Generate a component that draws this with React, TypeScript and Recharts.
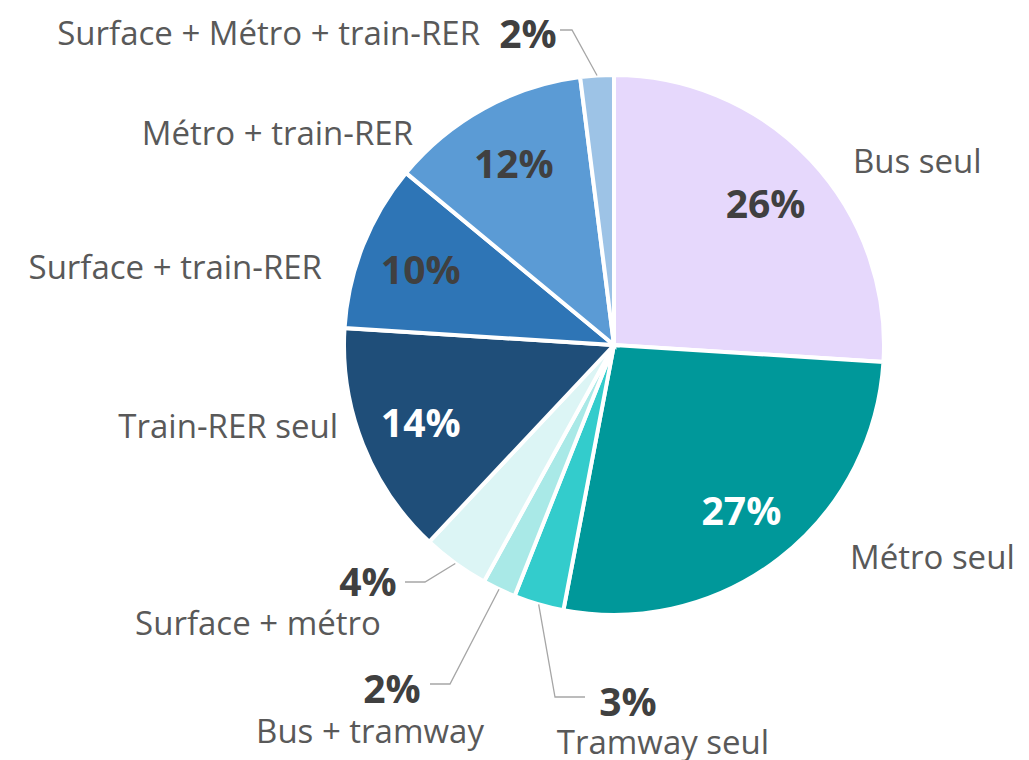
import { PieChart, Pie, Cell } from "recharts";

// Répartition des déplacements par mode (%)
const categories = [
  "Bus seul",
  "Métro seul",
  "Tramway seul",
  "Bus + tramway",
  "Surface + métro",
  "Train-RER seul",
  "Surface + train-RER",
  "Métro + train-RER",
  "Surface + Métro + train-RER",
];
const shares = [26, 27, 3, 2, 4, 14, 10, 12, 2];

const SLICE_COLORS = [
  "#E6D8FC",
  "#00989A",
  "#33CCCC",
  "#A9E9E7",
  "#DCF5F5",
  "#1F4E79",
  "#2E75B6",
  "#5B9BD5",
  "#9DC3E6",
];

const data = categories.map((name, i) => ({ name, value: shares[i] }));

const NAME_COLOR = "#595959";
const PCT_COLOR = "#404040";
const FONT = "'Open Sans', sans-serif";
const NAME_SIZE = 33;
const PCT_SIZE = 39;

// label placement, offsets from the pie centre
type Layout = {
  inside: boolean;
  light?: boolean;
  name: [number, number, "start" | "middle" | "end"];
  pct?: [number, number];
  elbow?: [number, number];
  end?: [number, number];
};
const LABEL_LAYOUT: Layout[] = [
  { inside: true, name: [239, -185, "start"] },
  { inside: true, light: true, name: [236, 211, "start"] },
  { inside: false, name: [49, 396, "middle"], pct: [14, 355], elbow: [-59, 352], end: [-29, 352] },
  { inside: false, name: [-244, 385, "middle"], pct: [-222, 342], elbow: [-164, 339], end: [-184, 339] },
  { inside: false, name: [-356, 277, "middle"], pct: [-246, 235], elbow: [-189, 237], end: [-209, 237] },
  { inside: true, light: true, name: [-276, 80, "end"] },
  { inside: true, name: [-292, -79, "end"] },
  { inside: true, name: [-201, -213, "end"] },
  { inside: false, name: [-134, -313, "end"], pct: [-86, -313], elbow: [-42, -315], end: [-54, -315] },
];

const RAD = Math.PI / 180;

const renderLabel = (props: any) => {
  const { cx, cy, midAngle, outerRadius, index, value, name } = props;
  const lay = LABEL_LAYOUT[index];
  const cos = Math.cos(-midAngle * RAD);
  const sin = Math.sin(-midAngle * RAD);
  const pctText = `${value}%`;
  const nameEl = (
    <text
      x={cx + lay.name[0]}
      y={cy + lay.name[1]}
      textAnchor={lay.name[2]}
      dominantBaseline="central"
      fill={NAME_COLOR}
      fontSize={NAME_SIZE}
      fontFamily={FONT}
    >
      {name}
    </text>
  );
  if (lay.inside) {
    const r = outerRadius * 0.77;
    return (
      <g>
        <text
          x={cx + r * cos}
          y={cy + r * sin}
          textAnchor="middle"
          dominantBaseline="central"
          fill={lay.light ? "#ffffff" : PCT_COLOR}
          fontSize={PCT_SIZE}
          fontWeight="bold"
          fontFamily={FONT}
        >
          {pctText}
        </text>
        {nameEl}
      </g>
    );
  }
  const sx = cx + outerRadius * cos;
  const sy = cy + outerRadius * sin;
  const pts = `${sx},${sy} ${cx + lay.elbow![0]},${cy + lay.elbow![1]} ${cx + lay.end![0]},${cy + lay.end![1]}`;
  return (
    <g>
      <polyline points={pts} fill="none" stroke="#A6A6A6" strokeWidth={1.3} />
      <text
        x={cx + lay.pct![0]}
        y={cy + lay.pct![1]}
        textAnchor="middle"
        dominantBaseline="central"
        fill={PCT_COLOR}
        fontSize={PCT_SIZE}
        fontWeight="bold"
        fontFamily={FONT}
      >
        {pctText}
      </text>
      {nameEl}
    </g>
  );
};

export default function App() {
  return (
    <div style={{ position: "absolute", left: 0, top: 0, width: 1029, height: 760, background: "#fff" }}>
      <PieChart width={1029} height={760} margin={{ top: 0, right: 0, bottom: 0, left: 0 }}>
        <Pie
          data={data}
          dataKey="value"
          nameKey="name"
          cx={614}
          cy={345}
          outerRadius={270}
          startAngle={90}
          endAngle={-270}
          stroke="#ffffff"
          strokeWidth={4}
          label={renderLabel}
          labelLine={false}
          isAnimationActive={false}
        >
          {data.map((d, i) => (
            <Cell key={d.name} fill={SLICE_COLORS[i]} />
          ))}
        </Pie>
      </PieChart>
    </div>
  );
}
